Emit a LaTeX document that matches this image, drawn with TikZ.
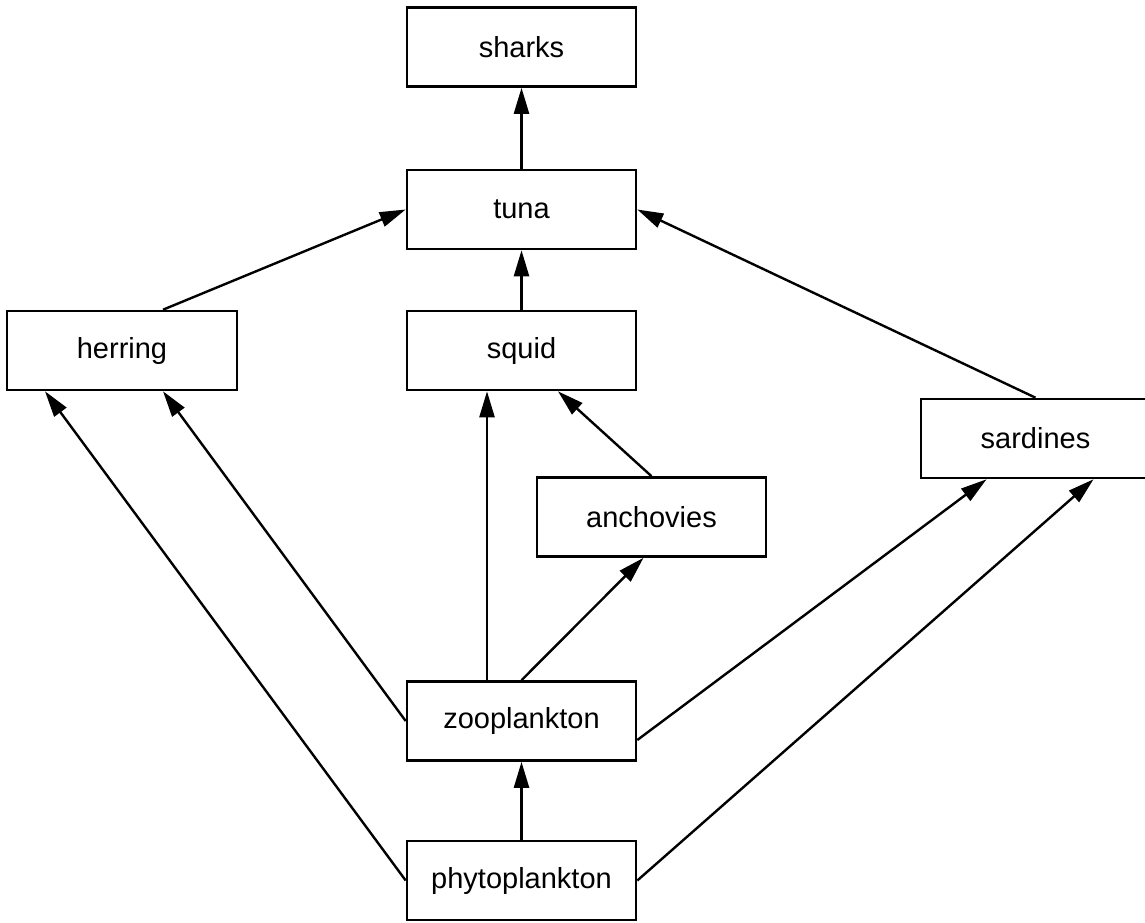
\documentclass[tikz,border=0pt]{standalone}
\usepackage{fontspec}
\setmainfont{Liberation Sans}
\usetikzlibrary{arrows.meta}
\tikzset{
  box/.style={draw, line width=2.6pt, minimum width=229pt, minimum height=79pt, inner sep=0pt, font=\fontsize{29}{34}\selectfont},
  arr/.style={line width=2.4pt, -{Triangle[length=26pt, width=15pt]}}
}
\begin{document}
\begin{tikzpicture}[x=1pt, y=-1pt]
\clip (0,0) rectangle (1145,922);
\node[box] (sharks) at (521.5,47) {sharks};
\node[box] (tuna) at (521.5,209.5) {tuna};
\node[box, minimum width=230pt] (herring) at (122,350.5) {herring};
\node[box] (squid) at (521.5,350.5) {squid};
\node[box] (sardines) at (1035.5,438.5) {sardines};
\node[box] (anchovies) at (651.5,517) {anchovies};
\node[box] (zoo) at (521.5,721) {zooplankton};
\node[box] (phyto) at (521.5,880.5) {phytoplankton};

\draw[arr] (tuna) -- (sharks);
\draw[arr] (squid) -- (tuna);
\draw[arr] ([xshift=41pt]herring.north) -- (tuna.west);
\draw[arr] (sardines.north) -- (tuna.east);
\draw[arr] (anchovies.north) -- ([xshift=36.5pt]squid.south);
\draw[arr] ([xshift=-34.5pt]zoo.north) -- ([xshift=-34.5pt]squid.south);
\draw[arr] (zoo.north) -- ([xshift=-8pt]anchovies.south);
\draw[arr] (zoo.west) -- ([xshift=41pt]herring.south);
\draw[arr] ([yshift=-19pt]zoo.east) -- ([xshift=-49pt]sardines.south);
\draw[arr] (phyto) -- (zoo);
\draw[arr] (phyto.west) -- ([xshift=-77pt]herring.south);
\draw[arr] (phyto.east) -- ([xshift=58pt]sardines.south);
\end{tikzpicture}
\end{document}
